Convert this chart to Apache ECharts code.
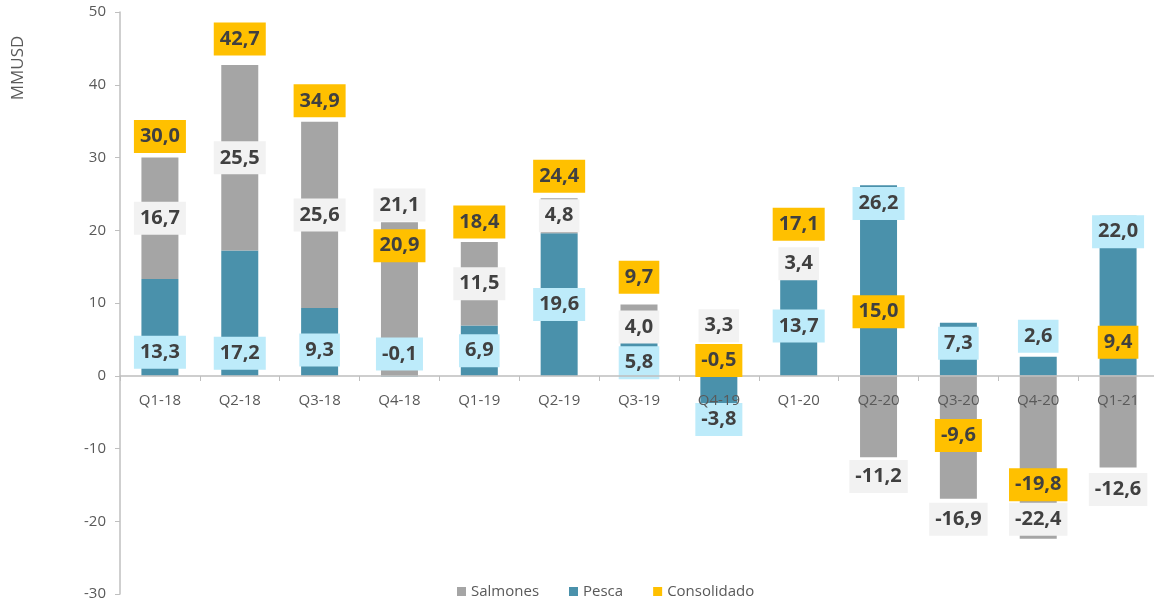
<!DOCTYPE html>
<html>
<head>
<meta charset="utf-8">
<script src="https://cdn.jsdelivr.net/npm/echarts@6/dist/echarts.min.js"></script>
<style>
  html, body { margin: 0; padding: 0; background: #fff; }
  #chart { width: 1154px; height: 600px; }
</style>
</head>
<body>
<div id="chart"></div>
<script>
let categories = ["Q1-18", "Q2-18", "Q3-18", "Q4-18", "Q1-19", "Q2-19", "Q3-19", "Q4-19", "Q1-20", "Q2-20", "Q3-20", "Q4-20", "Q1-21"];
let salmones = [16.7, 25.5, 25.6, 21.1, 11.5, 4.8, 4.0, 3.3, 3.4, -11.2, -16.9, -22.4, -12.6];
let pesca = [13.3, 17.2, 9.3, -0.1, 6.9, 19.6, 5.8, -3.8, 13.7, 26.2, 7.3, 2.6, 22.0];
let consolidado = [30.0, 42.7, 34.9, 20.9, 18.4, 24.4, 9.7, -0.5, 17.1, 15.0, -9.6, -19.8, 9.4];

// vertical nudges of the label boxes (px), as placed by hand in the original
let salLabelDy = [0, 0, 0, -94, 0, 0, 8, -38, 0, 60, 82, 62, 68];
let pesLabelDy = [25, 40, 8, -22, 0, 0, 8, 30, 0, -77, -6, -30, -64];
let conLabelDy = [-21, -26, -21, 22, -20, -22, -28, -19, -27, 45, -10, -35, 35];

const FONT = "Open Sans";

function fmt(v) {
  return v.toFixed(1).replace(".", ",");
}

function boxLabel(bg) {
  return {
    show: true,
    position: "inside",
    formatter: (p) => fmt(p.value),
    color: "#404040",
    fontFamily: FONT,
    fontWeight: "bold",
    fontSize: 20,
    lineHeight: 21,
    backgroundColor: bg,
    padding: [6, 6],
  };
}

function withDy(values, dy) {
  return values.map((v, i) => ({ value: v, label: { offset: [0, dy[i]] } }));
}

let myChart = echarts.init(document.getElementById("chart"));

myChart.setOption({
  animation: false,
  grid: {
    left: 120,
    right: -4,
    top: 12,
    bottom: 6,
    outerBoundsMode: "none",
  },
  legend: {
    data: [
      { name: "Salmones", icon: "rect" },
      { name: "Pesca", icon: "rect" },
      { name: "Consolidado", icon: "rect", itemStyle: { color: "#FFC000" } },
    ],
    left: 452,
    top: 579,
    itemWidth: 9,
    itemHeight: 9,
    itemGap: 30,
    textStyle: {
      color: "#595959",
      fontFamily: FONT,
      fontSize: 15,
    },
  },
  graphic: [
    {
      type: "text",
      x: 18,
      y: 68,
      rotation: Math.PI / 2,
      style: {
        text: "MMUSD",
        fill: "#595959",
        font: "17px 'Open Sans'",
        textAlign: "center",
        textVerticalAlign: "middle",
      },
    },
  ],
  xAxis: {
    type: "category",
    data: categories,
    z: 5,
    position: "bottom",
    offset: -218,
    axisLine: { onZero: false, lineStyle: { color: "#BFBFBF", width: 1.5 } },
    axisTick: { show: true, length: 5, lineStyle: { color: "#BFBFBF" } },
    axisLabel: {
      color: "#595959",
      fontFamily: FONT,
      fontSize: 15,
      margin: 17,
    },
  },
  yAxis: {
    type: "value",
    min: -30,
    max: 50,
    interval: 10,
    axisLine: { show: true, lineStyle: { color: "#BFBFBF", width: 1.5 } },
    axisTick: { show: true, length: 5, lineStyle: { color: "#BFBFBF" } },
    splitLine: { show: false },
    axisLabel: {
      color: "#595959",
      fontFamily: FONT,
      fontSize: 15,
      margin: 14,
    },
  },
  series: [
    {
      name: "Pesca",
      type: "bar",
      stack: "total",
      barWidth: 37,
      itemStyle: { color: "#4A91AB" },
      data: withDy(pesca, pesLabelDy),
      label: boxLabel("#BDEBFA"),
    },
    {
      name: "Salmones",
      type: "bar",
      stack: "total",
      barWidth: 37,
      itemStyle: { color: "#A5A5A5" },
      data: withDy(salmones, salLabelDy),
      label: boxLabel("#F2F2F2"),
    },
    {
      name: "Consolidado",
      type: "scatter",
      symbolSize: 0,
      itemStyle: { color: "#FFC000", opacity: 1 },
      data: withDy(consolidado, conLabelDy),
      label: boxLabel("#FFC000"),
      z: 10,
    },
  ],
});
</script>
</body>
</html>
